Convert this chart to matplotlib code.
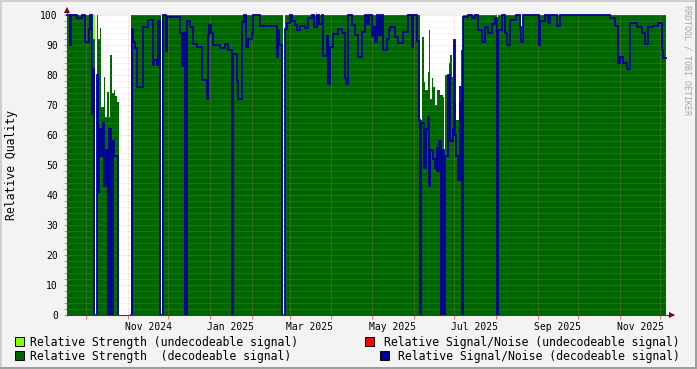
import matplotlib
matplotlib.use('Agg')
import matplotlib.pyplot as plt
import matplotlib.dates as mdates
from matplotlib.ticker import MultipleLocator
from matplotlib.patches import Rectangle, Polygon
from datetime import datetime, timedelta
import numpy as np

plt.rcParams['font.family'] = ['DejaVu Sans Mono']

nan = float('nan')

# time span of the graph (days from START)
START = datetime(2024, 9, 16, 18)
SPAN_DAYS = 444.5

# Relative Strength (decodeable signal): (day offset, value) steps, nan = no data
rs_dec = [(0, 100), (18.3, 82), (19.5, 92), (21.0, nan), (22.3, 100), (23.0, 92), (24.7, 95.6),
          (25.5, 69.4), (27.2, 79.4), (28.4, 66), (29.7, 74.4), (30.9, 66), (32.1, 86.7),
          (33.4, 74), (34.7, 75), (35.8, 73), (37.1, 71), (38.4, nan), (47.5, 100), (69.7, nan),
          (70.7, 100), (122.9, 94), (123.5, 100), (160.1, nan), (161.8, 100), (262.1, 65),
          (263.4, 92.8), (264.7, 77.8), (265.8, 75), (267.6, 81), (268.8, 95), (269.6, 72),
          (270.5, 79), (271.3, 76), (272.8, 70), (274.5, 75), (276.5, 73.3), (278.8, 72.8),
          (279.6, 50.6), (280.3, 80), (283.2, 83.9), (284.4, 86.7), (285.7, 79.4), (286.8, 71.7),
          (287.7, 70.6), (289.0, 65), (290.6, 71.1), (292.6, 88.3), (293.8, 100), (318.8, 92.2),
          (320.0, 100), (337.2, 90.6), (338.3, 100), (444.5, 100)]

# Relative Strength (undecodeable signal)
rs_undec = [(0, nan), (19.5, 100), (21.0, nan), (444.5, nan)]

# Relative Signal/Noise (undecodeable signal) - nothing recorded
snr_undec = [(0, nan), (444.5, nan)]

# Relative Signal/Noise (decodeable signal)
snr_dec = [(0, 100), (1.9, 90), (3.0, 100), (7.4, 99), (11.1, 100), (13.4, 91), (16.0, 95.5),
           (17.3, 100), (18.3, 67), (19.1, 82), (20.4, 0), (20.9, nan), (21.9, 0), (22.3, 80),
           (23.0, 41), (24.1, 62), (25.2, 53), (26.7, 64), (27.8, 43), (28.9, 55), (30.1, 0),
           (31.2, 62), (33.0, 0), (34.1, 58), (35.2, 53), (37.7, 0), (38.2, nan),
           (47.5, 0), (48.0, 95.5), (49.3, 91), (50.5, 89), (52.2, 76), (56.2, 96), (60.3, 98.5),
           (63.6, 83.5), (64.6, 85), (66.6, 83.5), (67.7, 98), (69.2, 0), (69.7, nan), (70.7, 0),
           (71.2, 100), (73.5, 88), (74.4, 99.5), (83.8, 94), (85.3, 83), (86.3, 94), (87.9, 0),
           (88.9, 98), (91.3, 96), (93.7, 90.5), (96.2, 89.4), (99.9, 78.5), (103.7, 72),
           (104.4, 93.5), (105.7, 96.7), (107.2, 94), (108.6, 90), (113.5, 89), (117.2, 90.5),
           (119.5, 88.5), (122.8, 0), (123.5, 87), (125.9, 78), (126.9, 72), (129.6, 97.8),
           (131.7, 100), (132.8, 89.4), (134.5, 92), (137.0, 93.9), (138.0, 100), (143.2, 96.5),
           (155.6, 95), (156.0, 86), (156.6, 95), (157.5, 90), (159.9, 0), (160.3, nan),
           (161.8, 0), (162.1, 95.5), (163.5, 97.2), (165.5, 100), (167.3, 98), (169.2, 96.7),
           (170.4, 95), (172.9, 96.5), (176.6, 95.6), (179.0, 98.9), (181.6, 100), (183.3, 96),
           (185.3, 100), (187.0, 97), (189.0, 100), (190.3, 86.4), (192.7, 93), (193.7, 77),
           (194.8, 89.4), (197.6, 93.6), (201.3, 95.5), (203.8, 94), (206.3, 79), (207.4, 77),
           (208.7, 100), (211.2, 96.7), (213.7, 93.3), (216.1, 86), (218.7, 94.4), (221.1, 100),
           (222.6, 97), (224.1, 100), (226.1, 93), (227.4, 96), (228.5, 91), (229.8, 100),
           (231.5, 93.5), (233.0, 100), (234.7, 88.3), (237.2, 92), (238.6, 95), (239.7, 96),
           (243.4, 92.8), (245.8, 90.6), (249.5, 94.5), (253.2, 100), (255.8, 89.4), (257.1, 100),
           (259.7, 91.5), (261.2, 65), (262.1, 0), (262.9, 64), (264.7, 49), (266.4, 62),
           (267.9, 66), (268.6, 43), (269.6, 55), (271.3, 52), (273.3, 49), (274.2, 56),
           (274.9, 48), (275.8, 58), (277.7, 0), (278.6, 55), (279.6, 0), (280.7, 53),
           (282.7, 80), (284.4, 58), (286.2, 62), (287.2, 91.7), (287.9, 60), (288.9, 53),
           (289.9, 45), (291.8, 76), (292.9, 0), (293.8, 99.5), (297.5, 100), (300.5, 99),
           (302.7, 100), (305.2, 95), (307.7, 91), (310.2, 96), (312.6, 94), (315.1, 97),
           (317.6, 99), (318.9, 0), (320.0, 95), (322.5, 100), (325.0, 94), (326.5, 90),
           (328.7, 98.5), (333.2, 100), (336.1, 96), (337.2, 91), (338.6, 100), (350.4, 90),
           (351.3, 98), (354.7, 100), (356.9, 97.5), (358.4, 100), (363.4, 96.5), (365.8, 100),
           (402.9, 99), (406.6, 96.5), (409.1, 84), (410.3, 86), (412.8, 84), (415.3, 82),
           (417.7, 97.5), (422.7, 96), (426.4, 94), (428.9, 90.5), (431.3, 96), (435.0, 96.5),
           (438.7, 97.5), (441.3, 88.5), (442.5, 85.6), (444.5, 85.6)]

legend_labels = ['Relative Strength (undecodeable signal)',
                 'Relative Strength  (decodeable signal)',
                 'Relative Signal/Noise (undecodeable signal)',
                 'Relative Signal/Noise (decodeable signal)']

C_RS_UNDEC = '#80ff00'
C_RS_DEC = '#006600'
C_SNR_UNDEC = '#ff0000'
C_SNR_DEC = '#000099'


def to_steps(pairs):
    """rrd style steps: each value holds until the next timestamp"""
    xs, ys = [], []
    for i in range(len(pairs) - 1):
        xs += [pairs[i][0], pairs[i + 1][0]]
        ys += [pairs[i][1], pairs[i][1]]
    return [START + timedelta(days=d) for d in xs], np.array(ys, dtype=float)


W, H = 697, 369
fig = plt.figure(figsize=(W / 100, H / 100), dpi=100, facecolor='#f3f3f3')
# plot area in pixels: x 67..666, y 15..315
ax = fig.add_axes([67 / W, (H - 315) / H, 599 / W, 300 / H])
ax.set_facecolor('white')

x, y = to_steps(rs_undec)
ax.fill_between(x, 0, y, color=C_RS_UNDEC, linewidth=0, zorder=1)
x, y = to_steps(rs_dec)
ax.fill_between(x, 0, y, color=C_RS_DEC, linewidth=0, zorder=1.1)
x, y = to_steps(snr_undec)
ax.plot(x, y, color=C_SNR_UNDEC, linewidth=1.3, zorder=3, clip_on=False)
x, y = to_steps(snr_dec)
ax.plot(x, y, color=C_SNR_DEC, linewidth=1.3, zorder=3, clip_on=False, solid_joinstyle='miter')

ax.set_xlim(START, START + timedelta(days=SPAN_DAYS))
ax.set_ylim(0, 100)

# axes / grid
ax.set_axisbelow(False)
for s in ax.spines.values():
    s.set_visible(False)

ax.yaxis.set_major_locator(MultipleLocator(10))
ax.yaxis.set_minor_locator(MultipleLocator(2))
ax.grid(which='minor', axis='y', color='#c0c0c0', alpha=0.3, linestyle=(0, (1, 1)), linewidth=0.72)
ax.grid(which='major', axis='y', color='#ff8080', alpha=0.4, linestyle=(0, (1, 1)), linewidth=0.72)

# labels sit in the middle of every second month, grid lines on month starts
ax.xaxis.set_major_locator(mdates.MonthLocator(bymonth=[1, 3, 5, 7, 9, 11], bymonthday=16))
ax.xaxis.set_major_formatter(mdates.DateFormatter('%b %Y'))
ax.xaxis.set_minor_locator(mdates.MonthLocator())
ax.grid(which='minor', axis='x', color='#ff8080', alpha=0.4, linestyle=(0, (1, 1)), linewidth=0.72)

ax.tick_params(axis='x', which='major', length=0, pad=5, labelsize=7)
ax.tick_params(axis='x', which='minor', length=3, color='#e08080', width=0.72)
ax.tick_params(axis='y', which='major', length=2, color='#e08080', width=0.72, pad=4.5, labelsize=7)
ax.tick_params(axis='y', which='minor', length=2, color='#a0a0a0', width=0.72)

# axis lines with arrows
ax.plot([0, 1.012], [0, 0], transform=ax.transAxes, color='#404040', linewidth=0.8, clip_on=False, zorder=4)
ax.plot([0, 0], [0, 1.017], transform=ax.transAxes, color='#404040', linewidth=0.8, clip_on=False, zorder=4)


def px(xp, yp):
    return (xp / W, 1 - yp / H)


fig.add_artist(Polygon([px(669, 312), px(675, 315), px(669, 318)], closed=True,
                       transform=fig.transFigure, color='#7f0000', linewidth=0))
fig.add_artist(Polygon([px(64, 13), px(67, 7), px(70, 13)], closed=True,
                       transform=fig.transFigure, color='#7f0000', linewidth=0))

fig.text(12 / W, 1 - 165 / H, 'Relative Quality', rotation=90, ha='center', va='center', fontsize=8.3)
fig.text(687 / W, 1 - 5 / H, 'RRDTOOL / TOBI OETIKER', rotation=270, ha='center', va='top',
         fontsize=6, color='#a8a8a8')

# legend
boxes = [(15, 337, C_RS_UNDEC), (15, 351, C_RS_DEC), (365, 337, C_SNR_UNDEC), (379.5, 351, C_SNR_DEC)]
for (bx, by, c) in boxes:
    fig.add_artist(Rectangle(px(bx, by + 9), 9 / W, 9 / H, transform=fig.transFigure,
                             facecolor=c, edgecolor='black', linewidth=0.7))
fig.text(*px(30, 346), legend_labels[0], ha='left', va='baseline', fontsize=8.3)
fig.text(*px(30, 360), legend_labels[1], ha='left', va='baseline', fontsize=8.3)
fig.text(*px(680, 346), legend_labels[2], ha='right', va='baseline', fontsize=8.3)
fig.text(*px(680, 360), legend_labels[3], ha='right', va='baseline', fontsize=8.3)

# 3d-ish border of the canvas
fig.add_artist(Rectangle((0, 1 - 2 / H), 1, 2 / H, transform=fig.transFigure, color='#cfcfcf', linewidth=0))
fig.add_artist(Rectangle((0, 0), 2 / W, 1, transform=fig.transFigure, color='#cfcfcf', linewidth=0))
fig.add_artist(Rectangle((0, 0), 1, 2 / H, transform=fig.transFigure, color='#9e9e9e', linewidth=0))
fig.add_artist(Rectangle((1 - 2 / W, 0), 2 / W, 1, transform=fig.transFigure, color='#9e9e9e', linewidth=0))

fig.savefig('out.png', dpi=100, facecolor=fig.get_facecolor())
plt.close(fig)
